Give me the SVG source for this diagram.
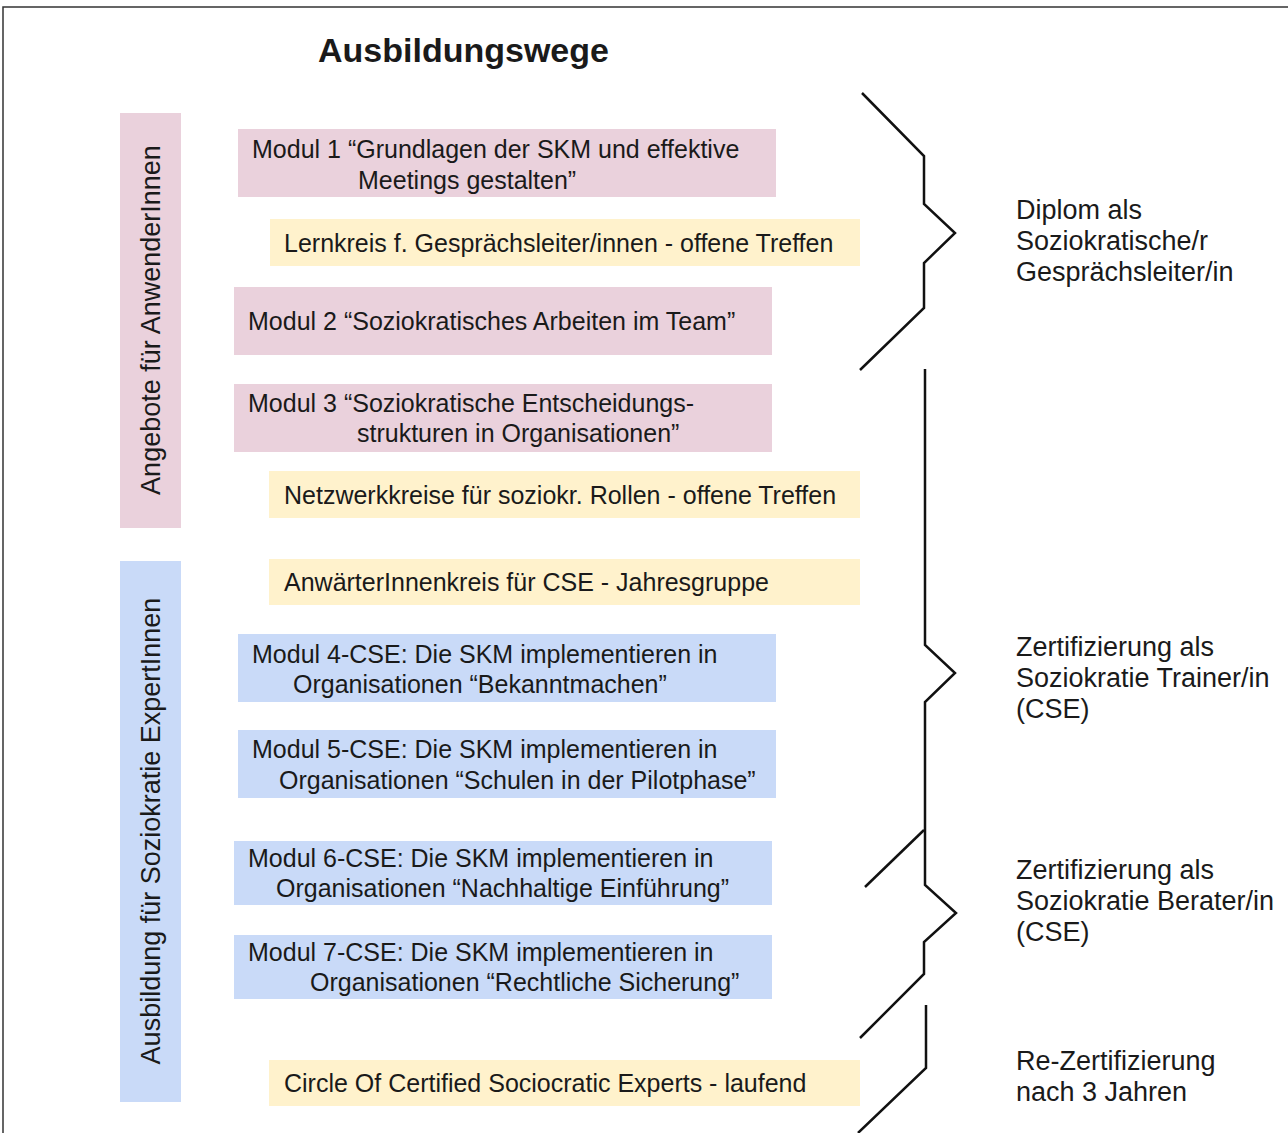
<svg xmlns="http://www.w3.org/2000/svg" width="1288" height="1133" viewBox="0 0 1288 1133">
<style>
text{font-family:"Liberation Sans",Arial,sans-serif;fill:#1a1a1a}
.t{font-size:25px}
.r{font-size:27px}
.pink{fill:#ead1dc}
.blue{fill:#c9daf8}
.yel{fill:#fff2cc}
.br{fill:none;stroke:#111;stroke-width:2.5;stroke-linejoin:miter}
</style>
<rect width="1288" height="1133" fill="#fff"/>
<path d="M3 1133V7H1288" fill="none" stroke="#333" stroke-width="1.5"/>
<text x="318" y="62" font-size="34" font-weight="bold">Ausbildungswege</text>
<g id="side1"><rect class="pink" x="120" y="113" width="61" height="415"/><text class="r" transform="translate(160,320) rotate(-90)" text-anchor="middle">Angebote für AnwenderInnen</text></g>
<g id="side2"><rect class="blue" x="120" y="561" width="61" height="541"/><text class="r" transform="translate(160,831) rotate(-90)" text-anchor="middle">Ausbildung für Soziokratie ExpertInnen</text></g>
<g id="m1"><rect class="pink" x="238" y="129" width="538" height="68"/><text class="t" x="252" y="158">Modul 1 “Grundlagen der SKM und effektive</text><text class="t" x="358" y="189">Meetings gestalten”</text></g>
<g id="lk"><rect class="yel" x="270" y="219" width="590" height="47"/><text class="t" x="284" y="252">Lernkreis f. Gesprächsleiter/innen - offene Treffen</text></g>
<g id="m2"><rect class="pink" x="234" y="287" width="538" height="68"/><text class="t" x="248" y="330">Modul 2 “Soziokratisches Arbeiten im Team”</text></g>
<g id="m3"><rect class="pink" x="234" y="384" width="538" height="68"/><text class="t" x="248" y="412">Modul 3 “Soziokratische Entscheidungs-</text><text class="t" x="357" y="442">strukturen in Organisationen”</text></g>
<g id="nk"><rect class="yel" x="269" y="471" width="591" height="47"/><text class="t" x="284" y="504">Netzwerkkreise für soziokr. Rollen - offene Treffen</text></g>
<g id="ak"><rect class="yel" x="269" y="559" width="591" height="46"/><text class="t" x="284" y="591">AnwärterInnenkreis für CSE - Jahresgruppe</text></g>
<g id="m4"><rect class="blue" x="238" y="634" width="538" height="68"/><text class="t" x="252" y="663">Modul 4-CSE: Die SKM implementieren in</text><text class="t" x="293" y="693">Organisationen “Bekanntmachen”</text></g>
<g id="m5"><rect class="blue" x="238" y="730" width="538" height="68"/><text class="t" x="252" y="758">Modul 5-CSE: Die SKM implementieren in</text><text class="t" x="279" y="789">Organisationen “Schulen in der Pilotphase”</text></g>
<g id="m6"><rect class="blue" x="234" y="841" width="538" height="64"/><text class="t" x="248" y="867">Modul 6-CSE: Die SKM implementieren in</text><text class="t" x="276" y="897">Organisationen “Nachhaltige Einführung”</text></g>
<g id="m7"><rect class="blue" x="234" y="935" width="538" height="64"/><text class="t" x="248" y="961">Modul 7-CSE: Die SKM implementieren in</text><text class="t" x="310" y="991">Organisationen “Rechtliche Sicherung”</text></g>
<g id="cc"><rect class="yel" x="269" y="1060" width="591" height="46"/><text class="t" x="284" y="1092">Circle Of Certified Sociocratic Experts - laufend</text></g>
<g id="connectors">
<path class="br" d="M862 93L924 156V204L955 233L924 263V308L860 370"/>
<path class="br" d="M925 369V645L955 673L925 702V885L956 913L924 942V974L860 1038"/>
<path class="br" d="M924 830L865 887"/>
<path class="br" d="M926 1005V1068L858 1133"/>
</g>
<g id="lab1"><text class="r" x="1016" y="219">Diplom als</text><text class="r" x="1016" y="250">Soziokratische/r</text><text class="r" x="1016" y="281">Gesprächsleiter/in</text></g>
<g id="lab2"><text class="r" x="1016" y="656">Zertifizierung als</text><text class="r" x="1016" y="687">Soziokratie Trainer/in</text><text class="r" x="1016" y="718">(CSE)</text></g>
<g id="lab3"><text class="r" x="1016" y="879">Zertifizierung als</text><text class="r" x="1016" y="910">Soziokratie Berater/in</text><text class="r" x="1016" y="941">(CSE)</text></g>
<g id="lab4"><text class="r" x="1016" y="1070">Re-Zertifizierung</text><text class="r" x="1016" y="1101">nach 3 Jahren</text></g>
</svg>
